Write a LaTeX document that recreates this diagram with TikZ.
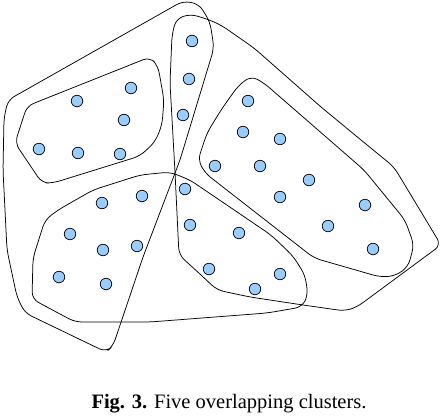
\documentclass[tikz,border=0pt]{standalone}
\usepackage{fontspec}
\setmainfont{Liberation Serif}
\usepackage{tikz}
\usetikzlibrary{positioning}
\definecolor{dotblue}{RGB}{153,204,255}

\begin{document}
\begin{tikzpicture}[
    x=1pt, y=-1pt,
    pt/.style={circle, draw, fill=dotblue, minimum size=11.5pt, inner sep=0pt, line width=0.7pt},
    hull/.style={draw, line width=0.75pt, rounded corners=7pt},
    captxt/.style={font=\fontsize{20.5}{22}\selectfont, anchor=base}
]
\useasboundingbox (0,0) rectangle (442,416);

% outer hulls
\draw[hull] (8,100) -- (183,1) -- (199,4) -- (210,22) -- (214,48) -- (180,160) -- (143,257) -- (113,346) -- (106,352) -- (25,313) -- (17,297) -- (7,250) -- (3,170) -- (4,118) -- cycle;
\draw[hull] (172,35) -- (176,19) -- (190,14) -- (207,19) -- (221,25) -- (254,48) -- (321,107) -- (361,140) -- (394,167) -- (441,245) -- (357,307) -- (345,311) -- (303,305) -- (250,297) -- (217,290) -- (200,274) -- (179,255) -- (175,172) -- (170,83) -- cycle;

% inner clusters
\draw[hull] (27,106) -- (150,57) -- (158,66) -- (164,100) -- (162,125) -- (155,142) -- (140,156) -- (53,183) -- (42,183) -- (15,143) -- cycle;
\draw[hull] (251,76) -- (264,83) -- (364,170) -- (405,220) -- (414,245) -- (408,267) -- (395,276) -- (380,277) -- (314,258) -- (205,173) -- (198,160) -- (207,133) -- (221,110) -- (238,86) -- cycle;
\draw[hull] (32,299) -- (33,258) -- (45,220) -- (58,210) -- (93,190) -- (140,175) -- (170,172) -- (190,180) -- (271,235) -- (293,256) -- (305,275) -- (308,295) -- (302,307) -- (267,313) -- (150,322) -- (75,322) -- cycle;

% top-left points
\node[pt] (a1) at (77,101) {};
\node[pt] (a2) at (131,88) {};
\node[pt] (a3) at (124,120) {};
\node[pt] (a4) at (39,149) {};
\node[pt] (a5) at (78,153) {};
\node[pt] (a6) at (120,154) {};

% strip points
\node[pt] (s1) at (192,41) {};
\node[pt] (s2) at (189,79) {};
\node[pt] (s3) at (183,115) {};

% right points
\node[pt] (r1) at (248,101) {};
\node[pt] (r2) at (243,132) {};
\node[pt] (r3) at (280,139) {};
\node[pt] (r4) at (215,166) {};
\node[pt] (r5) at (260,166) {};
\node[pt] (r6) at (309,180) {};
\node[pt] (r7) at (280,197) {};
\node[pt] (r8) at (365,205) {};
\node[pt] (r9) at (328,226) {};
\node[pt] (r10) at (373,249) {};

% bottom points
\node[pt] (b1) at (142,196) {};
\node[pt] (b2) at (102,203) {};
\node[pt] (b3) at (70,234) {};
\node[pt] (b4) at (103,250) {};
\node[pt] (b5) at (137,246) {};
\node[pt] (b6) at (59,277) {};
\node[pt] (b7) at (106,284) {};
\node[pt] (m1) at (185,189) {};
\node[pt] (m2) at (190,225) {};
\node[pt] (m3) at (239,233) {};
\node[pt] (m4) at (209,269) {};
\node[pt] (m5) at (280,274) {};
\node[pt] (m6) at (255,289) {};

\node[captxt] (caption) at (229,408) {\textbf{Fig. 3.} Five overlapping clusters.};
\end{tikzpicture}
\end{document}
